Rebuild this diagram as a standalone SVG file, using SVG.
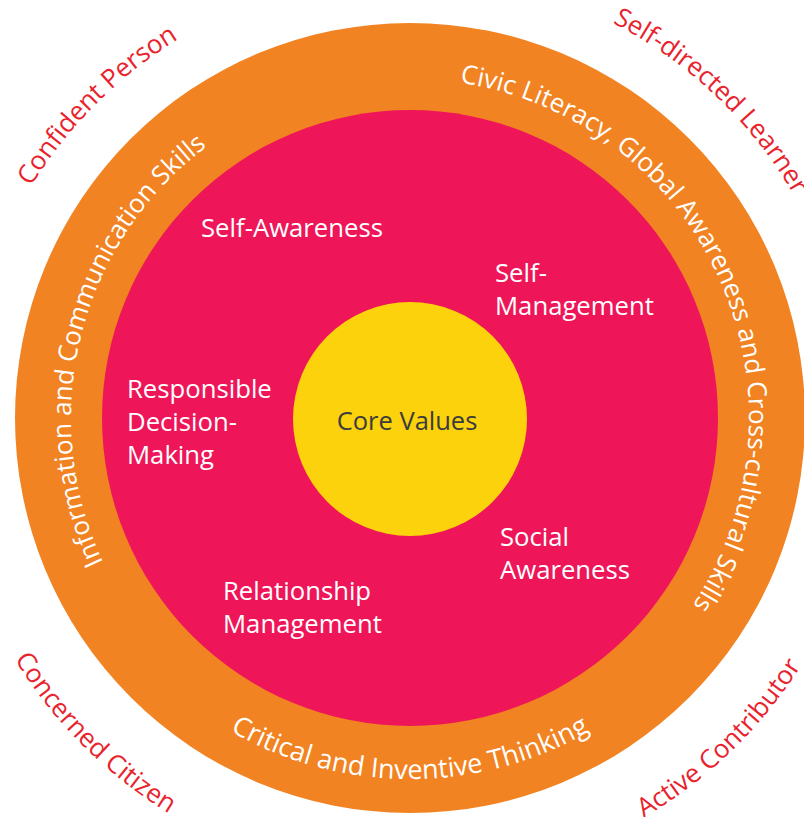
<svg xmlns="http://www.w3.org/2000/svg" xmlns:xlink="http://www.w3.org/1999/xlink" width="804" height="817" viewBox="0 0 804 817">
  <style>
    text { font-family: "Open Sans", "Noto Sans", sans-serif; }
    .ring { fill: #ffffff; font-size: 26px; }
    .crit { fill: #ffffff; font-size: 27px; }
    .outer { fill: #E8232D; font-size: 26px; }
    .lbl { fill: #ffffff; font-size: 25.7px; }
    .core { fill: #3C3C3C; font-size: 25.5px; }
  </style>
  <defs>
    <path id="pCivic" d="M 327.99 89.07 A 339 339 0 0 1 599.57 699.04"/>
    <path id="pInfo" d="M 272.12 727.69 A 339 339 0 0 1 433.65 79.83"/>
    <path id="pCrit" d="M 54.48 480.69 A 361 361 0 0 0 765.52 480.69"/>
    <path id="pConf" d="M 46.30 672.67 A 444 444 0 0 1 664.67 54.30"/>
    <path id="pSelf" d="M 145.90 61.09 A 444 444 0 0 1 780.25 663.06"/>
    <path id="pConc" d="M 30.73 152.43 A 463 463 0 0 0 675.57 797.27"/>
    <path id="pActive" d="M 137.86 792.58 A 463 463 0 0 0 793.85 159.10"/>
  </defs>

  <g id="outcomes">
    <text class="outer" text-anchor="middle"><textPath xlink:href="#pConf" href="#pConf" startOffset="50%">Confident Person</textPath></text>
    <text class="outer" text-anchor="middle"><textPath xlink:href="#pSelf" href="#pSelf" startOffset="50%">Self-directed Learner</textPath></text>
    <text class="outer" text-anchor="middle"><textPath xlink:href="#pConc" href="#pConc" startOffset="50%">Concerned Citizen</textPath></text>
    <text class="outer" text-anchor="middle"><textPath xlink:href="#pActive" href="#pActive" startOffset="50%">Active Contributor</textPath></text>
  </g>

  <g id="competencies-ring">
    <circle cx="410" cy="418" r="395" fill="#F28322"/>
    <text class="ring" text-anchor="middle"><textPath xlink:href="#pCivic" href="#pCivic" startOffset="50%">Civic Literacy, Global Awareness and Cross-cultural Skills</textPath></text>
    <text class="ring" text-anchor="middle"><textPath xlink:href="#pInfo" href="#pInfo" startOffset="50%">Information and Communication Skills</textPath></text>
    <text class="crit" text-anchor="middle"><textPath xlink:href="#pCrit" href="#pCrit" startOffset="50%">Critical and Inventive Thinking</textPath></text>
  </g>

  <g id="social-emotional">
    <circle cx="410" cy="418" r="308" fill="#EE1659"/>
    <text class="lbl" x="201" y="237">Self-Awareness</text>
    <text class="lbl" x="495" y="282">Self-<tspan x="495" dy="33">Management</tspan></text>
    <text class="lbl" x="127" y="398">Responsible<tspan x="127" dy="33">Decision-</tspan><tspan x="127" dy="33">Making</tspan></text>
    <text class="lbl" x="223" y="600">Relationship<tspan x="223" dy="33">Management</tspan></text>
    <text class="lbl" x="500" y="546">Social<tspan x="500" dy="33">Awareness</tspan></text>
  </g>

  <g id="core-values">
    <circle cx="410" cy="419" r="117" fill="#FBD20B"/>
    <text class="core" x="407" y="430" text-anchor="middle">Core Values</text>
  </g>
</svg>
